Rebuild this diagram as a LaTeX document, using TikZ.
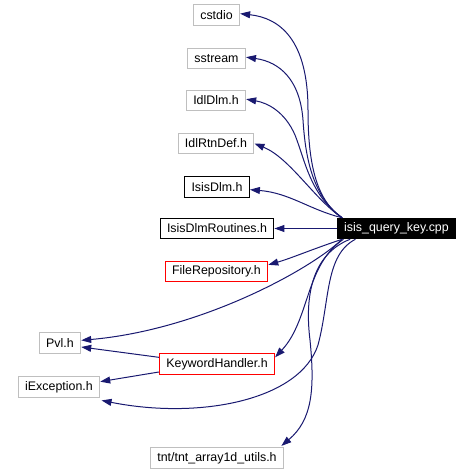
\documentclass[tikz,border=0pt]{standalone}
\usepackage{fontspec}
\setmainfont{Liberation Sans}
\usetikzlibrary{arrows.meta}
\definecolor{edgeblue}{HTML}{191970}
\definecolor{boxgray}{HTML}{BFBFBF}

\begin{document}
\begin{tikzpicture}[x=0.75pt,y=-0.75pt,
  file/.style={draw=boxgray,line width=0.75pt,inner xsep=5.2pt,inner ysep=0pt,
    minimum height=15.4pt,font=\fontsize{9.3}{11}\selectfont},
  known/.style={file,draw=black},
  redfile/.style={file,draw=red},
  main/.style={file,draw=black,fill=black,text=white},
  dep/.style={draw=edgeblue,line width=0.75pt,-{Triangle[length=7.5pt,width=5.2pt]}}]
\useasboundingbox (0,0) rectangle (476,473);
% ---------- the source file ----------
\node[main] (cpp) at (396.5,228.5) {isis\_query\_key.cpp};
% ---------- headers in the middle column ----------
\node[file] (cstdio) at (216.5,15) {cstdio};
\node[file] (sstream) at (216.5,58.5) {sstream};
\node[file] (idldlm) at (216,100.5) {IdlDlm.h};
\node[file] (idlrtn) at (216,143.5) {IdlRtnDef.h};
\node[known] (isisdlm) at (217,187) {IsisDlm.h};
\node[known] (isisrtn) at (217,228.5) {IsisDlmRoutines.h};
\node[redfile] (filerep) at (216.5,271.5) {FileRepository.h};
\node[redfile] (keyword) at (217,364) {KeywordHandler.h};
\node[file] (tnt) at (217,458) {tnt/tnt\_array1d\_utils.h};
% ---------- headers on the left ----------
\node[file] (pvl) at (60,343) {Pvl.h};
\node[file] (iexc) at (59,387) {iException.h};
% ---------- upper fan ----------
\draw[dep] ([xshift=4pt]cpp.north west) .. controls (315,200) and (308,160) .. (308,110)
  .. controls (308,40) and (280,18) .. ([yshift=1pt]cstdio.east);
\draw[dep] ([xshift=4pt]cpp.north west) .. controls (310,195) and (305,150) .. (303,120)
  .. controls (300,80) and (280,62) .. ([yshift=1pt]sstream.east);
\draw[dep] ([xshift=4pt]cpp.north west) .. controls (310,195) and (305,160) .. (295,135)
  .. controls (285,112) and (268,103) .. ([yshift=1pt]idldlm.east);
\draw[dep] ([xshift=4pt]cpp.north west) .. controls (315,200) and (290,158) .. (idlrtn.east);
\draw[dep] ([xshift=4pt]cpp.north west) .. controls (310,210) and (290,193) .. ([yshift=-2pt]isisdlm.east);
\draw[dep] (cpp.west) -- (isisrtn.east);
% ---------- lower fan ----------
\draw[dep] ([xshift=4pt]cpp.south west) .. controls (310,250) and (292,258) .. ([yshift=5pt]filerep.east);
\draw[dep] ([xshift=4pt]cpp.south west) .. controls (310,270) and (200,330) .. ([yshift=2pt]pvl.east);
\draw[dep] ([xshift=5pt]cpp.south west) .. controls (305,265) and (310,320) .. ([yshift=5pt]keyword.east);
\draw[dep] ([xshift=14pt]cpp.south west) .. controls (325,255) and (330,300) .. (318,345)
  .. controls (300,400) and (200,420) .. ([xshift=1pt,yshift=-2pt]iexc.south east);
\draw[dep] ([xshift=10pt]cpp.south west) .. controls (310,255) and (305,300) .. (310,340)
  .. controls (315,390) and (312,420) .. ([xshift=-2pt,yshift=1pt]tnt.north east);
% ---------- from KeywordHandler ----------
\draw[dep] ([yshift=5pt]keyword.west) -- ([yshift=-3pt]pvl.east);
\draw[dep] ([yshift=-6pt]keyword.west) -- ([yshift=4pt]iexc.east);
\end{tikzpicture}
\end{document}
